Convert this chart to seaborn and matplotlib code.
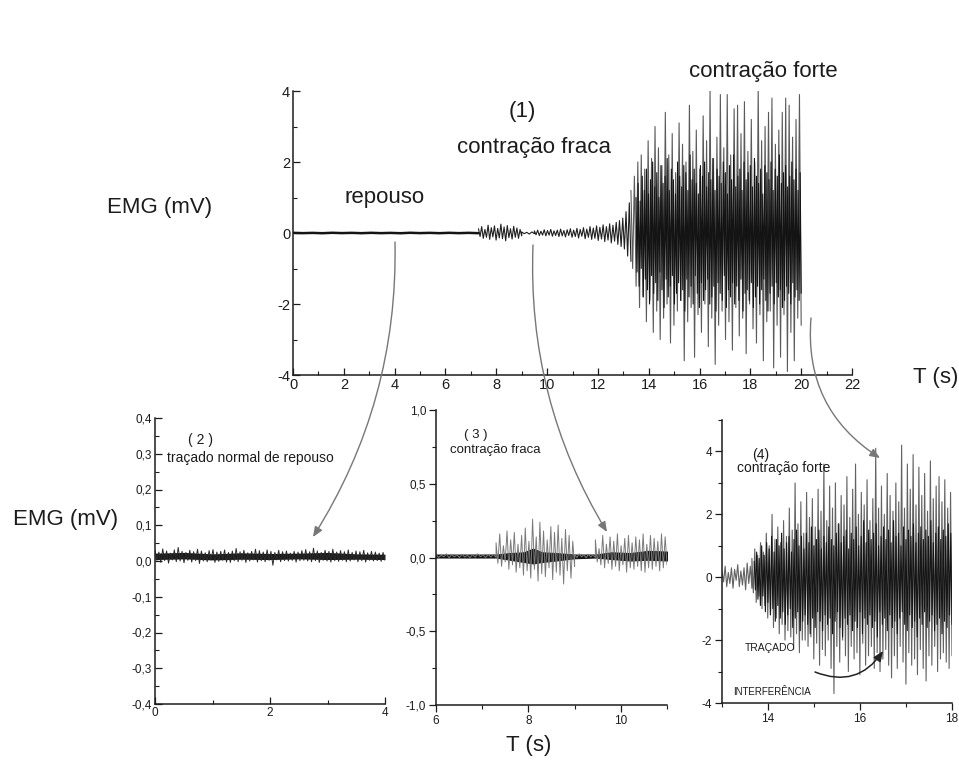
import numpy as np
import matplotlib
matplotlib.use("Agg")
import matplotlib.pyplot as plt
import seaborn as sns
from matplotlib.patches import FancyArrowPatch
from matplotlib.ticker import MultipleLocator

# ---- data (upper / lower peak of each time slice) ----
# (1) full record, mV
main_rest_hi = [0.005, 0.003, 0.006, 0.004, 0.005, 0.003, 0.006, 0.004, 0.005, 0.004]
main_rest_lo = [-0.004, -0.006, -0.003, -0.005, -0.004, -0.006, -0.003, -0.005, -0.004, -0.005]
main_weak1_hi = [0.12, 0.18, 0.10, 0.22, 0.15, 0.20, 0.13, 0.25, 0.17, 0.21, 0.12, 0.19, 0.14, 0.10]
main_weak1_lo = [-0.10, -0.15, -0.12, -0.18, -0.11, -0.20, -0.14, -0.16, -0.22, -0.13, -0.17, -0.12, -0.15, -0.08]
main_gap_hi = [0.03, 0.02, 0.03]
main_gap_lo = [-0.02, -0.03, -0.02]
main_weak2_hi = [0.06, 0.08, 0.05, 0.09, 0.07, 0.10, 0.06, 0.08, 0.11, 0.07,
                 0.09, 0.12, 0.08, 0.13, 0.10, 0.15, 0.11, 0.18, 0.14, 0.20,
                 0.16, 0.23, 0.18, 0.26, 0.22, 0.30, 0.35, 0.42, 0.60, 0.85]
main_weak2_lo = [-0.05, -0.07, -0.06, -0.08, -0.06, -0.09, -0.07, -0.10, -0.08, -0.11,
                 -0.07, -0.12, -0.10, -0.14, -0.09, -0.16, -0.12, -0.18, -0.15, -0.21,
                 -0.17, -0.24, -0.20, -0.28, -0.23, -0.32, -0.38, -0.45, -0.65, -0.80]
main_strong_hi = [1.2, 1.6, 2.0, 2.2, 1.8, 2.6, 2.1, 3.0, 2.4, 1.9,
                  3.4, 2.2, 2.8, 1.7, 3.1, 2.5, 2.0, 3.6, 2.3, 2.9,
                  1.8, 3.3, 2.6, 4.0, 2.1, 2.7, 3.9, 2.4, 3.9, 2.2,
                  3.5, 3.6, 2.8, 3.7, 2.3, 3.2, 2.0, 4.1, 2.6, 3.0,
                  3.4, 3.8, 2.5, 2.9, 3.4, 3.8, 3.6, 2.7, 3.2, 3.9]
main_strong_lo = [-1.0, -1.5, -2.1, -1.8, -2.5, -1.9, -2.8, -2.2, -3.0, -2.4,
                  -2.0, -3.1, -2.6, -2.2, -1.9, -3.6, -2.5, -2.1, -3.5, -2.3,
                  -2.8, -2.0, -3.2, -2.4, -3.7, -2.6, -2.2, -3.0, -2.5, -3.3,
                  -2.1, -2.9, -2.4, -3.4, -2.0, -2.7, -3.1, -2.3, -3.6, -2.5,
                  -2.2, -3.8, -2.6, -3.5, -2.3, -3.9, -2.8, -3.6, -2.4, -2.6]
main_core_hi = [1.0, 1.4, 0.9, 1.6, 1.2, 1.8, 1.1, 1.5, 2.0, 1.3,
                1.7, 1.0, 1.9, 1.4, 1.6, 2.1, 1.2, 1.8, 1.5, 1.1,
                2.0, 1.6, 1.3, 1.9, 1.7, 1.2, 2.2, 1.5, 1.8, 1.4,
                1.1, 1.9, 1.6, 2.0, 1.3, 1.7, 1.5, 2.1, 1.2, 1.8,
                1.6, 1.4, 2.0, 1.7, 1.1, 1.9, 1.5, 2.2, 1.3, 1.6,
                1.8, 1.2, 2.0, 1.5, 1.7, 1.9, 1.3, 2.1, 1.6, 1.4,
                1.8, 1.1, 1.9, 1.7, 1.5, 2.0, 1.2, 1.8, 1.6, 2.2,
                1.4, 1.7, 1.9, 1.3, 1.6, 2.0, 1.5, 1.8, 1.2, 1.7]
main_core_lo = [-1.1, -1.5, -1.0, -1.8, -1.3, -1.6, -2.0, -1.2, -1.7, -1.4,
                -1.9, -1.1, -1.6, -2.1, -1.3, -1.8, -1.5, -1.2, -2.0, -1.7,
                -1.4, -1.9, -1.6, -2.2, -1.3, -1.8, -1.5, -2.0, -1.2, -1.7,
                -2.1, -1.4, -1.9, -1.6, -1.3, -2.0, -1.8, -1.5, -2.2, -1.4,
                -1.7, -1.9, -1.2, -2.1, -1.6, -1.8, -1.4, -2.0, -1.5, -1.9,
                -1.3, -2.2, -1.7, -1.6, -1.9, -1.4, -2.1, -1.8, -1.5, -2.0,
                -1.6, -1.3, -1.9, -2.2, -1.7, -1.5, -2.0, -1.4, -1.8, -1.6,
                -2.1, -1.9, -1.5, -1.7, -2.0, -1.4, -1.8, -1.6, -1.9, -1.7]

# (2) rest trace, 0-4 s
rest_hi = [0.030, 0.025, 0.034, 0.028, 0.022, 0.031, 0.038, 0.027, 0.024, 0.030,
           0.026, 0.033, 0.028, 0.023, 0.029, 0.032, 0.025, 0.027, 0.031, 0.024,
           0.028, 0.035, 0.026, 0.030, 0.023, 0.027, 0.033, 0.029, 0.025, 0.031,
           0.027, 0.024, 0.030, 0.026, 0.028, 0.022, 0.027, 0.025, 0.029, 0.032,
           0.026, 0.036, 0.028, 0.024, 0.030, 0.027, 0.033, 0.025, 0.029, 0.026,
           0.031, 0.024, 0.028, 0.026, 0.030, 0.023, 0.027, 0.025, 0.022, 0.024]
rest_lo = [0.002, -0.004, 0.001, -0.006, 0.003, -0.002, 0.000, -0.005, 0.002, -0.003,
           0.001, -0.007, 0.000, -0.002, 0.003, -0.004, -0.001, 0.002, -0.003, -0.004,
           0.001, -0.002, 0.002, -0.004, 0.000, 0.003, -0.003, 0.001, -0.002, 0.002,
           -0.012, 0.003, -0.002, 0.001, 0.000, 0.002, -0.003, 0.001, 0.002, 0.000,
           -0.002, 0.001, -0.004, 0.002, 0.000, -0.003, 0.001, -0.001, 0.002, -0.002,
           0.000, 0.003, -0.002, 0.001, -0.003, 0.002, 0.000, 0.001, -0.001, 0.002]
rest_core_t = [0, 0.5, 1, 1.5, 2, 2.5, 3, 3.5, 4]
rest_core_hi = [0.022, 0.024, 0.020, 0.023, 0.021, 0.022, 0.024, 0.020, 0.019]
rest_core_lo = [0.004, 0.006, 0.003, 0.005, 0.004, 0.006, 0.004, 0.005, 0.004]

# (3) weak contraction, 6-11 s
weak_base_hi = [0.02, 0.015, 0.025, 0.02, 0.018, 0.022, 0.015, 0.02, 0.025, 0.018, 0.02, 0.022]
weak_base_lo = [0.0, 0.005, -0.002, 0.004, 0.0, 0.003, -0.001, 0.002, 0.005, 0.0, 0.003, 0.001]
weak_b1_hi = [0.10, 0.16, 0.08, 0.18, 0.12, 0.17, 0.09, 0.15, 0.20, 0.11,
              0.26, 0.14, 0.24, 0.18, 0.12, 0.21, 0.17, 0.22, 0.13, 0.19, 0.15, 0.11]
weak_b1_lo = [-0.04, -0.06, -0.03, -0.08, -0.05, -0.10, -0.07, -0.12, -0.09, -0.14,
              -0.08, -0.16, -0.11, -0.13, -0.07, -0.15, -0.10, -0.12, -0.18, -0.09, -0.14, -0.06]
weak_gap_hi = [0.02, 0.025, 0.018, 0.022, 0.02]
weak_gap_lo = [0.0, 0.004, -0.002, 0.003, 0.0]
weak_b2_hi = [0.12, 0.06, 0.15, 0.09, 0.14, 0.11, 0.16, 0.08, 0.13, 0.15,
              0.10, 0.14, 0.12, 0.16, 0.09, 0.15, 0.13, 0.11, 0.16, 0.14]
weak_b2_lo = [-0.03, -0.05, -0.07, -0.04, -0.08, -0.06, -0.09, -0.05, -0.10, -0.07,
              -0.08, -0.06, -0.09, -0.10, -0.07, -0.08, -0.06, -0.09, -0.07, -0.05]
weak_core_t = [6.0, 7.3, 7.6, 7.9, 8.1, 8.3, 8.6, 9.0, 9.45, 9.8, 10.2, 10.6, 11.0]
weak_core_hi = [0.02, 0.02, 0.03, 0.035, 0.06, 0.035, 0.03, 0.02, 0.02, 0.035, 0.03, 0.045, 0.04]
weak_core_lo = [0.0, 0.0, -0.015, -0.03, -0.04, -0.03, -0.02, -0.005, 0.0, -0.01, -0.02, -0.015, -0.02]

# (4) strong contraction, 13-18 s
strong_quiet_hi = [0.2, 0.35, 0.15, 0.3, 0.25, 0.4, 0.2, 0.3, 0.45, 0.35]
strong_quiet_lo = [-0.15, -0.3, -0.2, -0.35, -0.1, -0.3, -0.25, -0.4, -0.2, -0.35]
strong_hi = [0.6, 0.9, 0.7, 1.1, 0.8, 1.4, 1.0, 2.0, 1.2, 1.6,
             1.1, 1.8, 1.3, 2.2, 1.5, 3.0, 1.7, 2.4, 1.4, 2.7,
             1.9, 2.5, 1.6, 2.8, 2.1, 3.6, 1.8, 2.9, 2.2, 3.0,
             1.7, 2.6, 2.3, 3.2, 1.9, 2.8, 3.6, 2.0, 2.7, 2.3,
             3.1, 1.8, 2.5, 4.1, 2.2, 2.9, 2.0, 3.3, 2.6, 2.1,
             3.0, 2.4, 4.2, 2.2, 3.6, 2.8, 3.9, 2.3, 3.5, 2.6,
             3.3, 2.1, 3.7, 2.5, 2.9, 3.2, 2.4, 3.1, 2.2, 2.7]
strong_lo = [-0.5, -0.8, -0.6, -1.0, -0.9, -1.3, -1.1, -1.6, -1.3, -1.8,
             -1.5, -2.0, -1.7, -1.9, -2.3, -1.8, -2.4, -2.0, -2.0, -2.2,
             -1.9, -2.6, -2.1, -2.8, -2.3, -2.5, -2.0, -2.9, -3.7, -2.2,
             -2.7, -2.0, -2.5, -3.0, -2.2, -2.6, -2.4, -3.1, -2.1, -2.8,
             -2.5, -2.2, -2.9, -2.4, -3.0, -2.6, -2.3, -2.8, -3.2, -2.5,
             -2.9, -2.2, -2.7, -3.4, -2.4, -2.8, -2.6, -3.1, -2.3, -2.9,
             -3.3, -2.5, -2.8, -2.2, -3.0, -2.6, -2.4, -2.7, -2.9, -2.5]
strong_core_hi = [0.5, 0.8, 0.6, 1.0, 0.7, 1.1, 0.9, 1.3, 0.8, 1.2,
                  1.0, 1.4, 0.9, 1.1, 1.3, 0.8, 1.2, 1.5, 1.0, 1.3,
                  0.9, 1.4, 1.1, 1.6, 1.0, 1.2, 1.5, 0.9, 1.3, 1.1,
                  1.6, 1.2, 1.0, 1.4, 1.7, 1.1, 1.3, 1.5, 0.9, 1.4,
                  1.2, 1.6, 1.0, 1.3, 1.8, 1.1, 1.5, 1.2, 1.4, 1.7,
                  1.0, 1.3, 1.6, 1.2, 1.5, 1.1, 1.8, 1.3, 1.4, 1.0,
                  1.6, 1.2, 1.5, 1.3, 1.7, 1.1, 1.4, 1.6, 1.2, 1.5,
                  1.3, 1.8, 1.1, 1.4, 1.6, 1.2, 1.5, 1.3, 1.7, 1.4]
strong_core_lo = [-0.4, -0.7, -0.9, -0.6, -1.1, -0.8, -1.2, -1.0, -1.4, -0.9,
                  -1.3, -1.1, -1.5, -1.2, -1.0, -1.6, -1.3, -1.1, -1.7, -1.4,
                  -1.2, -1.5, -1.8, -1.3, -1.6, -1.1, -1.4, -1.7, -1.2, -1.5,
                  -1.3, -1.8, -1.4, -1.1, -1.6, -1.9, -1.3, -1.5, -1.2, -1.7,
                  -1.4, -1.6, -1.1, -1.8, -1.3, -1.5, -1.2, -1.6, -1.4, -1.9,
                  -1.1, -1.5, -1.3, -1.7, -1.2, -1.6, -1.4, -1.8, -1.3, -1.1,
                  -1.5, -1.7, -1.2, -1.6, -1.4, -1.9, -1.3, -1.5, -1.1, -1.6,
                  -1.4, -1.2, -1.7, -1.5, -1.3, -1.8, -1.4, -1.6, -1.2, -1.5]


def zigzag(t0, t1, hi, lo):
    # alternate the upper and lower peaks of each slice
    t = np.linspace(t0, t1, 2 * len(hi))
    y = np.column_stack([hi, lo]).ravel()
    return t, y


def trace(parts):
    ts, ys = zip(*[zigzag(*p) for p in parts])
    return np.concatenate(ts), np.concatenate(ys)


sns.set_theme(style="white")
plt.rcParams["font.family"] = ["Liberation Sans", "DejaVu Sans"]
plt.rcParams["axes.unicode_minus"] = False

W, H = 959, 767
fig = plt.figure(figsize=(W / 100, H / 100), dpi=100)
INK = "#1c1c1c"


def px_axes(l, t, r, b):
    return fig.add_axes([l / W, 1 - b / H, (r - l) / W, (b - t) / H])


def ptext(x, y, s, **kw):
    kw.setdefault("color", INK)
    fig.text(x / W, 1 - y / H, s, **kw)


def style(ax, size, direction="in"):
    for side in ["top", "right"]:
        ax.spines[side].set_visible(False)
    for side in ["left", "bottom"]:
        ax.spines[side].set_color(INK)
        ax.spines[side].set_linewidth(1.1)
    ax.tick_params(which="both", direction=direction, colors=INK, labelsize=size,
                   left=True, bottom=True, pad=2)
    ax.tick_params(which="major", length=5, width=0.9)
    ax.tick_params(which="minor", length=3, width=0.8)
    ax.set_xlabel("")
    ax.set_ylabel("")


def draw(ax, parts, color, lw):
    t, y = trace(parts)
    sns.lineplot(x=t, y=y, ax=ax, color=color, linewidth=lw,
                 estimator=None, sort=False, legend=False)


# ---- (1) full record ----
ax1 = px_axes(293, 91, 852, 375)
draw(ax1, [(13.3, 20.0, main_strong_hi, main_strong_lo)], "#5a5a5a", 0.8)
draw(ax1, [(13.5, 20.0, main_core_hi, main_core_lo)], "#141414", 0.8)
draw(ax1, [(7.3, 9.0, main_weak1_hi, main_weak1_lo),
           (9.0, 9.5, main_gap_hi, main_gap_lo),
           (9.5, 13.3, main_weak2_hi, main_weak2_lo)], "#202020", 0.8)
draw(ax1, [(0, 7.3, main_rest_hi, main_rest_lo)], "#141414", 1.8)
ax1.set_xlim(0, 22)
ax1.set_ylim(-4, 4)
ax1.set_xticks(range(0, 23, 2))
ax1.set_yticks([-4, -2, 0, 2, 4])
ax1.xaxis.set_minor_locator(MultipleLocator(1))
ax1.yaxis.set_minor_locator(MultipleLocator(1))
style(ax1, 10.5)

# ---- (2) rest ----
ax2 = px_axes(155, 418, 385, 704)
draw(ax2, [(0, 4, rest_hi, rest_lo)], "#2a2a2a", 0.7)
ax2.fill_between(rest_core_t, rest_core_hi, rest_core_lo, color="#1a1a1a", lw=0)
ax2.set_xlim(0, 4)
ax2.set_ylim(-0.4, 0.4)
ax2.set_xticks([0, 2, 4])
ax2.set_yticks([-0.4, -0.3, -0.2, -0.1, 0.0, 0.1, 0.2, 0.3, 0.4])
ax2.set_yticklabels(["-0,4", "-0,3", "-0,2", "-0,1", "0,0", "0,1", "0,2", "0,3", "0,4"])
ax2.xaxis.set_minor_locator(MultipleLocator(1))
ax2.yaxis.set_minor_locator(MultipleLocator(0.05))
style(ax2, 8.5)

# ---- (3) weak contraction ----
ax3 = px_axes(436, 410, 667, 705)
draw(ax3, [(6, 7.3, weak_base_hi, weak_base_lo),
           (7.3, 9.0, weak_b1_hi, weak_b1_lo),
           (9.0, 9.45, weak_gap_hi, weak_gap_lo),
           (9.45, 11.0, weak_b2_hi, weak_b2_lo)], "#7a7a7a", 0.7)
ax3.fill_between(weak_core_t, weak_core_hi, weak_core_lo, color="#141414", lw=0.8)
ax3.set_xlim(6, 11)
ax3.set_ylim(-1, 1)
ax3.set_xticks([6, 8, 10])
ax3.set_yticks([-1.0, -0.5, 0.0, 0.5, 1.0])
ax3.set_yticklabels(["-1,0", "-0,5", "0,0", "0,5", "1,0"])
ax3.xaxis.set_minor_locator(MultipleLocator(1))
ax3.yaxis.set_minor_locator(MultipleLocator(0.25))
style(ax3, 8.5, "out")

# ---- (4) strong contraction ----
ax4 = px_axes(722, 420, 952, 703)
draw(ax4, [(13.0, 13.65, strong_quiet_hi, strong_quiet_lo),
           (13.65, 18.0, strong_hi, strong_lo)], "#626262", 0.8)
draw(ax4, [(13.7, 18.0, strong_core_hi, strong_core_lo)], "#161616", 0.8)
ax4.set_xlim(13, 18)
ax4.set_ylim(-4, 5)
ax4.set_xticks([14, 16, 18])
ax4.set_yticks([-4, -2, 0, 2, 4])
ax4.xaxis.set_minor_locator(MultipleLocator(1))
ax4.yaxis.set_minor_locator(MultipleLocator(1))
style(ax4, 8.5, "out")

# ---- labels ----
ptext(212, 208, "EMG (mV)", size=16, ha="right", va="center")
ptext(345, 197, "repouso", size=16, ha="left", va="center")
ptext(522, 112, "(1)", size=16, ha="center", va="center")
ptext(457, 147, "contração fraca", size=16, ha="left", va="center")
ptext(689, 72, "contração forte", size=16, ha="left", va="center")
ptext(913, 377, "T (s)", size=16, ha="left", va="center")

ptext(201, 440, "( 2 )", size=10, ha="center", va="center")
ptext(167, 458, "traçado normal de repouso", size=10, ha="left", va="center")
ptext(476, 435, "( 3 )", size=9.5, ha="center", va="center")
ptext(450, 450, "contração fraca", size=9.5, ha="left", va="center")
ptext(761, 455, "(4)", size=10, ha="center", va="center")
ptext(737, 468, "contração forte", size=10, ha="left", va="center")
ptext(745, 648, "TRAÇADO", size=7.5, ha="left", va="center")
ptext(733, 692, "INTERFERÊNCIA", size=7, ha="left", va="center")

ptext(13, 520, "EMG (mV)", size=16, ha="left", va="center")
ptext(529, 745, "T (s)", size=16, ha="center", va="center")


# ---- connector arrows ----
def arrow(p0, p1, rad, color="#777777", lw=1.0):
    a = FancyArrowPatch((p0[0] / W, 1 - p0[1] / H), (p1[0] / W, 1 - p1[1] / H),
                        transform=fig.transFigure,
                        connectionstyle=f"arc3,rad={rad}",
                        arrowstyle="-|>,head_length=6,head_width=2.5",
                        color=color, lw=lw, shrinkA=0, shrinkB=0)
    fig.add_artist(a)


arrow((395, 242), (313, 537), -0.15)
arrow((533, 245), (607, 532), 0.15)
arrow((811, 318), (880, 458), 0.3)
arrow((815, 672), (883, 651), 0.4, color="#222222", lw=1.1)

fig.savefig("out.png", dpi=100, facecolor="white")
